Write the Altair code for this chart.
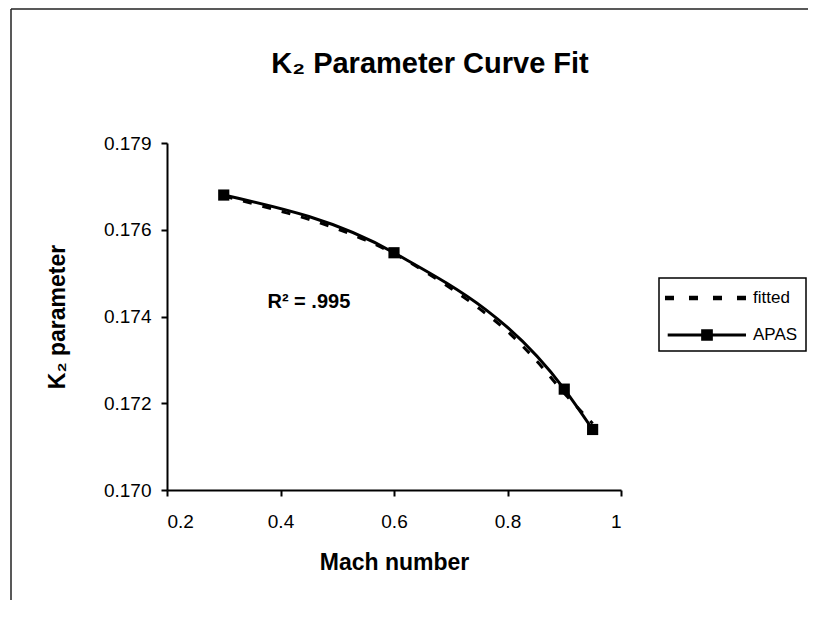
import altair as alt
import pandas as pd

# ---- data ----
mach_apas = [0.3, 0.6, 0.9, 0.95]
k2_apas = [0.17731, 0.17588, 0.1725, 0.1715]

mach_fit = [0.3, 0.35, 0.4, 0.45, 0.5, 0.55, 0.6, 0.65, 0.7, 0.75, 0.8, 0.85, 0.9, 0.95]
k2_fit = [0.17729, 0.17710, 0.17691, 0.17671, 0.17647, 0.17619, 0.17586,
          0.17545, 0.17500, 0.17450, 0.17393, 0.17322, 0.17240, 0.17165]

series_names = ["fitted", "APAS"]
x_ticks = [0.2, 0.4, 0.6, 0.8, 1.0]
y_ticks = [0.170, 0.17215, 0.1743, 0.17645, 0.1786]
r2_label = ["R² = .995"]
r2_pos_mach = [0.377]
r2_pos_k2 = [0.17451]

FONT = "Liberation Sans"

apas = pd.DataFrame({"mach": mach_apas, "k2": k2_apas, "series": "APAS"})
fit = pd.DataFrame({"mach": mach_fit, "k2": k2_fit, "series": "fitted"})
both = pd.concat([fit, apas], ignore_index=True)
r2 = pd.DataFrame({"mach": r2_pos_mach, "k2": r2_pos_k2, "label": r2_label})

xs = alt.Scale(domain=[0.2, 1.0], nice=False, zero=False)
ys = alt.Scale(domain=[0.170, 0.1786], nice=False, zero=False)

X = alt.X("mach:Q", scale=xs,
          axis=alt.Axis(values=x_ticks, format="~g", title="Mach number"))
Y = alt.Y("k2:Q", scale=ys,
          axis=alt.Axis(values=y_ticks, format=".3f", title="K₂ parameter"))

fit_line = alt.Chart(fit).mark_line(color="black", strokeWidth=3, strokeDash=[9, 11],
                                    interpolate="monotone").encode(x=X, y=Y, order="mach:Q")
apas_line = alt.Chart(apas).mark_line(color="black", strokeWidth=3,
                                      interpolate="monotone").encode(x=X, y=Y, order="mach:Q")
apas_pts = alt.Chart(apas).mark_point(shape="square", filled=True, size=125,
                                      color="black", opacity=1).encode(x=X, y=Y)

# legend symbols (unit = 12 px, symbol nominal box [-1, 1])
dash_path = ("M-1.167,-0.196H-0.417V0.196H-1.167Z "
             "M0.833,-0.196H1.583V0.196H0.833Z "
             "M2.833,-0.196H3.583V0.196H2.833Z "
             "M4.833,-0.196H5.583V0.196H4.833Z")
solid_path = ("M-0.942,-0.117H5.583V0.117H-0.942Z "
              "M1.846,-0.4875H2.821V0.4875H1.846Z")

legend_layer = alt.Chart(both).mark_point(filled=True, opacity=0, color="black").encode(
    x=X, y=Y,
    shape=alt.Shape("series:N",
                    scale=alt.Scale(domain=series_names, range=[dash_path, solid_path]),
                    legend=alt.Legend(title=None, orient="none", legendX=492, legendY=135,
                                      strokeColor="black", padding=8,
                                      symbolSize=576, symbolOpacity=1,
                                      symbolFillColor="black", symbolStrokeWidth=0,
                                      symbolStrokeColor="black",
                                      labelFont=FONT, labelFontSize=17, labelColor="black",
                                      rowPadding=17, labelOffset=62)),
)

r2_text = alt.Chart(r2).mark_text(font=FONT, fontSize=20, fontWeight="bold", align="left",
                                  baseline="alphabetic", color="black").encode(
    x=X, y=Y, text="label:N")

frame_df = pd.DataFrame({"k": [0]})
frame_top = alt.Chart(frame_df).mark_rule(color="#222", strokeWidth=1.5).encode(
    x=alt.value(-156), x2=alt.value(700), y=alt.value(-134))
frame_left = alt.Chart(frame_df).mark_rule(color="#222", strokeWidth=1.5).encode(
    x=alt.value(-156), y=alt.value(-134), y2=alt.value(480))

chart = alt.layer(frame_top, frame_left, fit_line, apas_line, apas_pts, legend_layer, r2_text).properties(
    width=454, height=347,
    title=alt.TitleParams("K₂ Parameter Curve Fit", font=FONT, fontSize=29, fontWeight="bold",
                          color="black", anchor="middle", offset=0, baseline="alphabetic",
                          dy=94, dx=36),
    autosize=alt.AutoSizeParams(type="none"),
    padding={"left": 159, "top": 135, "right": 187, "bottom": 110},
).configure_view(stroke=None).configure_axis(
    grid=False, domainColor="black", domainWidth=2, tickColor="black", tickWidth=2,
    tickSize=6, labelFont=FONT, labelFontSize=19, labelColor="black",
    titleFont=FONT, titleFontSize=23, titleFontWeight="bold", titleColor="black",
).configure_axisX(labelPadding=16, titlePadding=20).configure_axisY(
    labelPadding=10, titlePadding=34
).configure_legend(strokeWidth=1.5)

chart.save("out.html", embed_options={"renderer": "svg", "actions": False})
